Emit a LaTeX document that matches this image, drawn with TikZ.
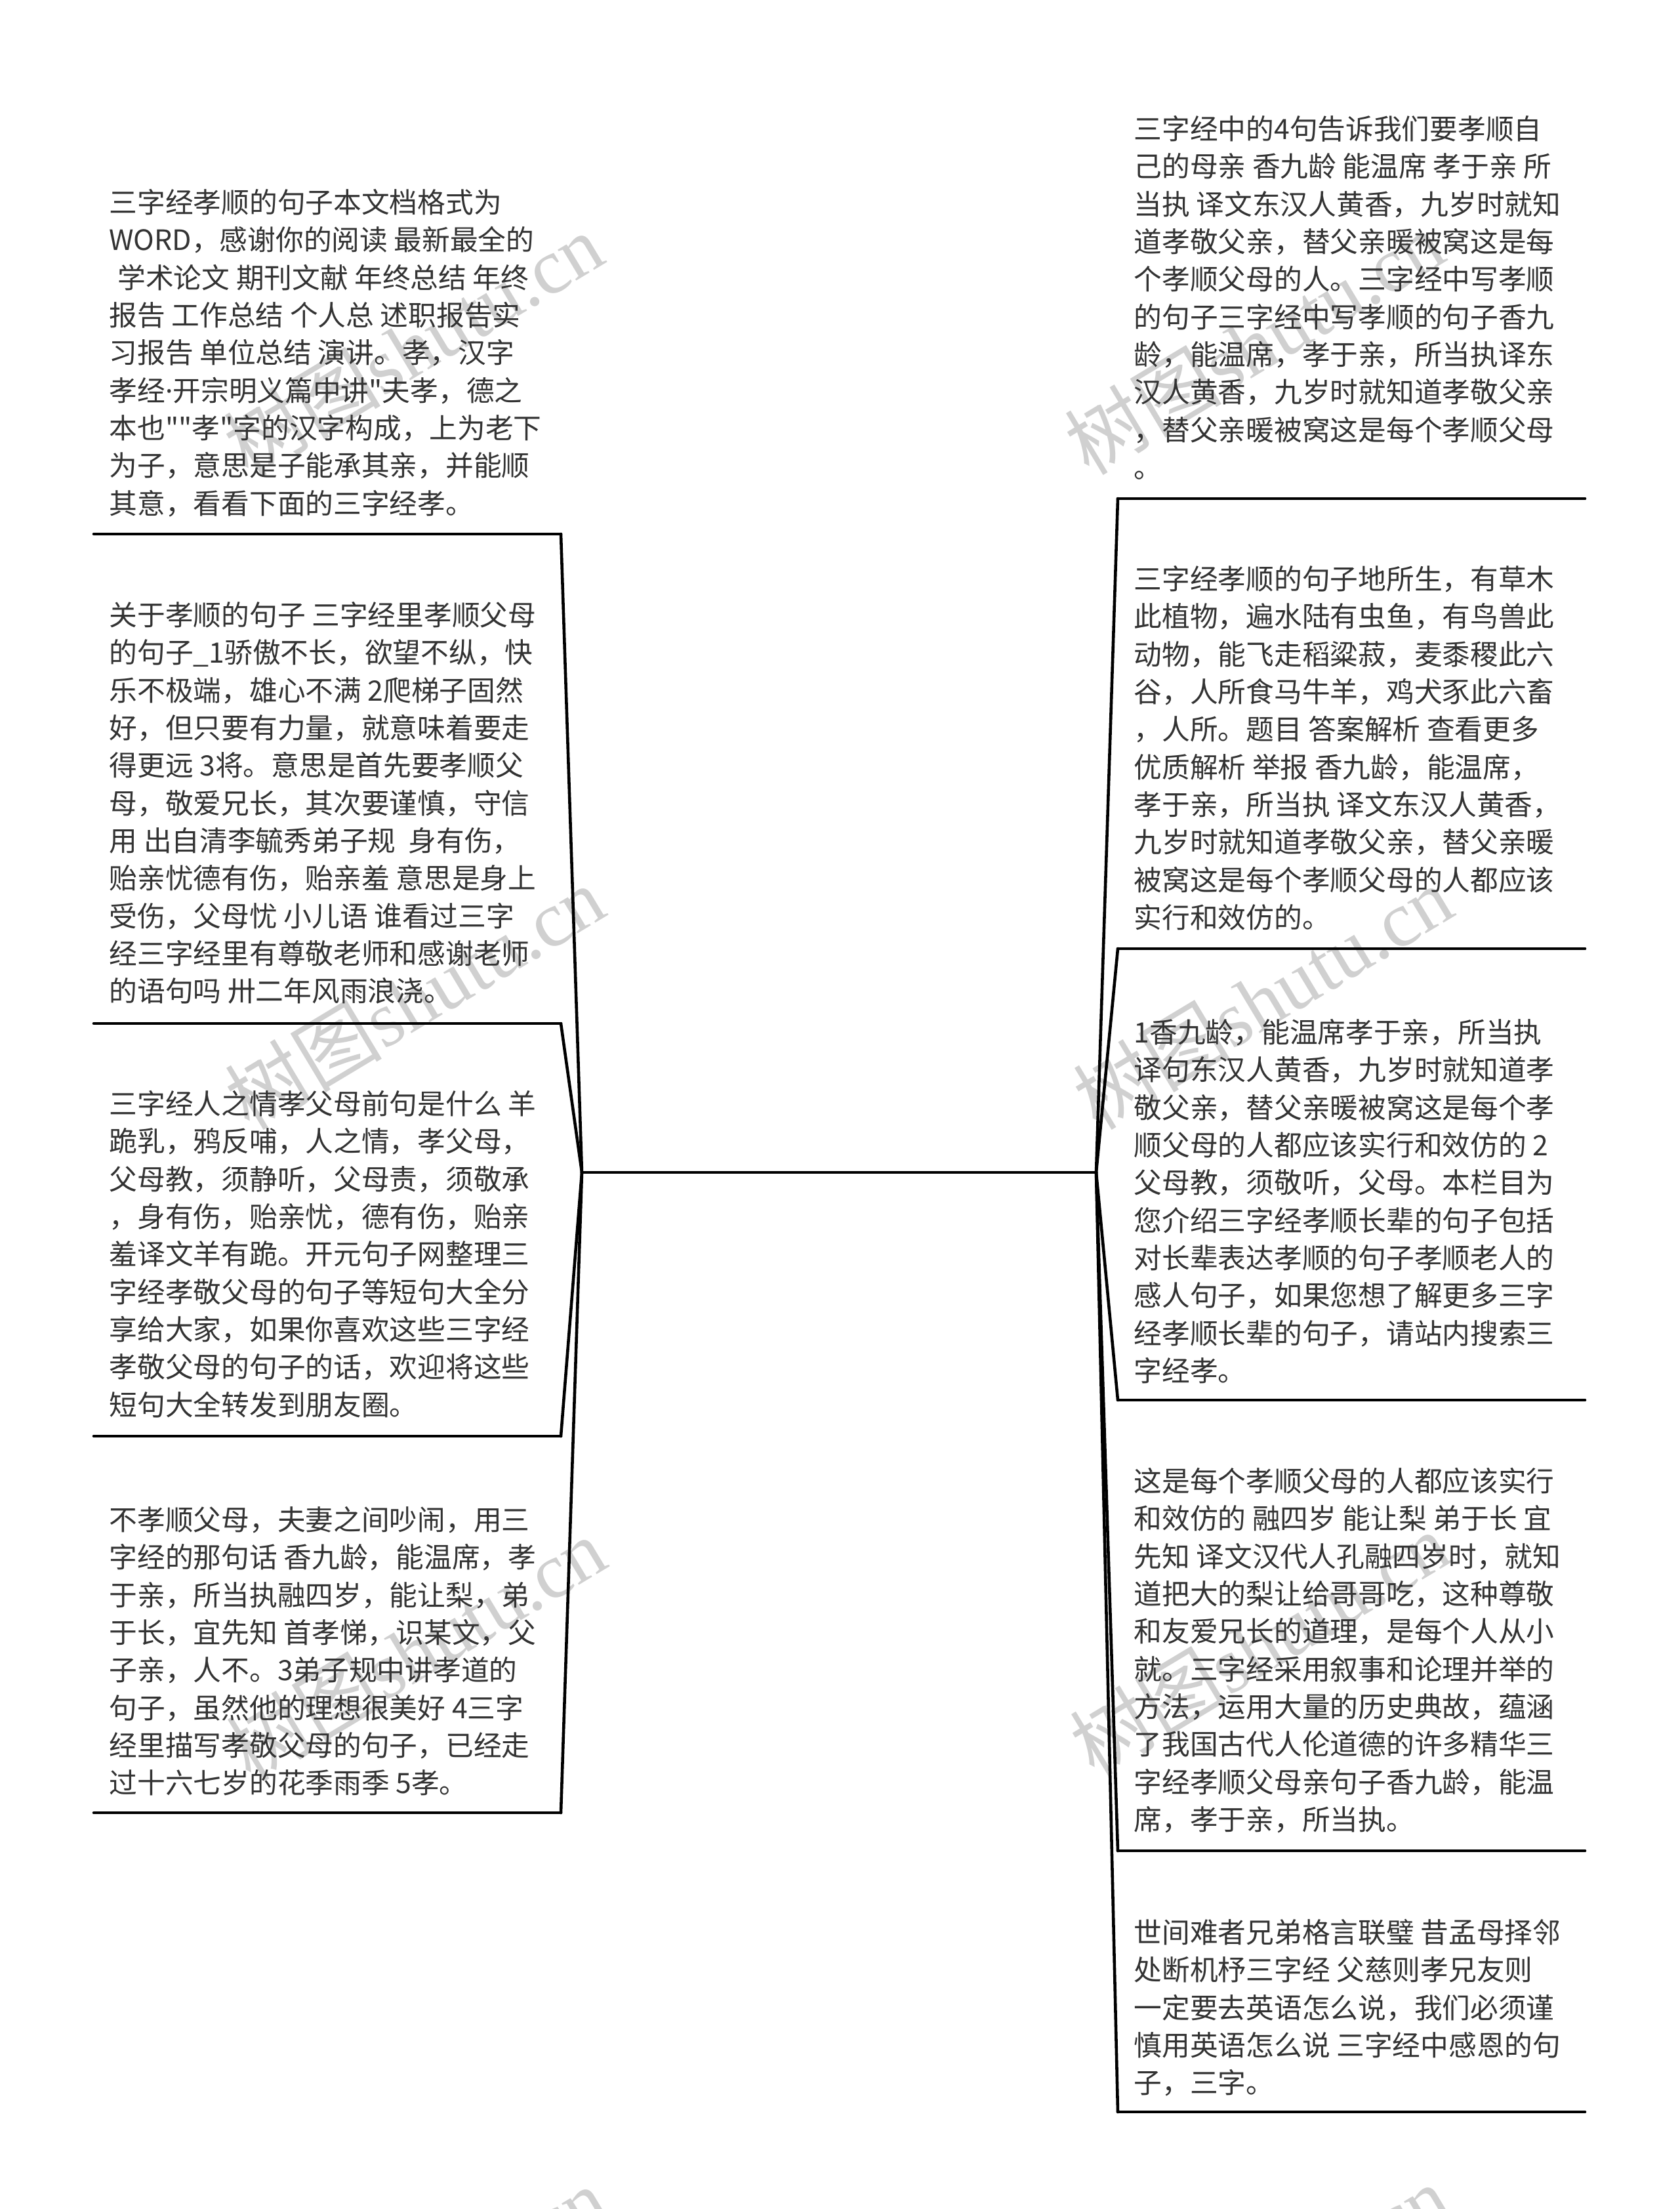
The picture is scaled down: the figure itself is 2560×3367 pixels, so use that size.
\documentclass[tikz,border=0pt]{standalone}
\usepackage{fontspec}
\newfontfamily\cjk{Noto Sans CJK SC}
\newfontfamily\latinsans{Noto Sans}
\newfontfamily\wmlatin{Liberation Serif}
\definecolor{txt}{HTML}{333333}
\definecolor{wm}{HTML}{D0D0D0}
\newcommand{\fl}{\rule{0pt}{1em}}
\begin{document}
\begin{tikzpicture}[x=0.01cm,y=-0.01cm,
  leaf/.style={anchor=north west, inner sep=0pt, align=left, text=txt,
    font=\cjk\fontsize{12.15pt}{16.3pt}\selectfont},
  conn/.style={line width=1.3pt, draw=black, line cap=round, line join=round},
  wmark/.style={text=wm, rotate=31, inner sep=0pt,
    font=\fontsize{34pt}{34pt}\selectfont}]
\fill[white] (0,0) rectangle (2560,3367);
\useasboundingbox (0,0) rectangle (2560,3367);

% watermarks
\foreach \wx/\wy [count=\i] in {630/525, 632/1520, 634/2513, 636/3503, 1912/522, 1925/1520, 1920/2505, 1920/3500}
  \node[wmark] (wm\i) at (\wx,\wy) {{\cjk 树图}{\wmlatin shutu.cn}};

% centre
\coordinate (cl) at (887,1787);
\coordinate (cr) at (1671,1787);
\draw[conn] (cl) -- (cr);

% left leaves
\coordinate (l1a) at (143,814);  \coordinate (l1b) at (855,814);
\coordinate (l2a) at (143,1560); \coordinate (l2b) at (855,1560);
\coordinate (l3a) at (143,2189); \coordinate (l3b) at (855,2189);
\coordinate (l4a) at (143,2763); \coordinate (l4b) at (855,2763);

\node[leaf] (l1) at (166,281) {\fl 三字经孝顺的句子本文档格式为\\
WORD，感谢你的阅读 最新最全的\\
\hspace*{0.3em}学术论文 期刊文献 年终总结 年终\\
报告 工作总结 个人总 述职报告实\\
习报告 单位总结 演讲。孝，汉字\\
孝经{\latinsans ·}开宗明义篇中讲"夫孝，德之\\
本也""孝"字的汉字构成，上为老下\\
为子，意思是子能承其亲，并能顺\\
其意，看看下面的三字经孝。};

\node[leaf] (l2) at (166,910) {\fl 关于孝顺的句子 三字经里孝顺父母\\
的句子\_1骄傲不长，欲望不纵，快\\
乐不极端，雄心不满 2爬梯子固然\\
好，但只要有力量，就意味着要走\\
得更远 3将。意思是首先要孝顺父\\
母，敬爱兄长，其次要谨慎，守信\\
用 出自清李毓秀弟子规\ \ 身有伤，\\
贻亲忧德有伤，贻亲羞 意思是身上\\
受伤，父母忧 小儿语 谁看过三字\\
经三字经里有尊敬老师和感谢老师\\
的语句吗 卅二年风雨浪浇。};

\node[leaf] (l3) at (166,1655) {\fl 三字经人之情孝父母前句是什么 羊\\
跪乳，鸦反哺，人之情，孝父母，\\
父母教，须静听，父母责，须敬承\\
，身有伤，贻亲忧，德有伤，贻亲\\
羞译文羊有跪。开元句子网整理三\\
字经孝敬父母的句子等短句大全分\\
享给大家，如果你喜欢这些三字经\\
孝敬父母的句子的话，欢迎将这些\\
短句大全转发到朋友圈。};

\node[leaf] (l4) at (166,2289) {\fl 不孝顺父母，夫妻之间吵闹，用三\\
字经的那句话 香九龄，能温席，孝\\
于亲，所当执融四岁，能让梨，弟\\
于长，宜先知 首孝悌，识某文，父\\
子亲，人不。3弟子规中讲孝道的\\
句子，虽然他的理想很美好 4三字\\
经里描写孝敬父母的句子，已经走\\
过十六七岁的花季雨季 5孝。};

\foreach \k in {1,2,3,4} {
  \draw[conn] (l\k a) -- (l\k b);
  \draw[conn] (cl) -- (l\k b);
}

% right leaves
\coordinate (r1a) at (1704,760);  \coordinate (r1b) at (2416,760);
\coordinate (r2a) at (1704,1446); \coordinate (r2b) at (2416,1446);
\coordinate (r3a) at (1704,2134); \coordinate (r3b) at (2416,2134);
\coordinate (r4a) at (1704,2821); \coordinate (r4b) at (2416,2821);
\coordinate (r5a) at (1704,3219); \coordinate (r5b) at (2416,3219);

\node[leaf] (r1) at (1728,169) {\fl 三字经中的4句告诉我们要孝顺自\\
己的母亲 香九龄 能温席 孝于亲 所\\
当执 译文东汉人黄香，九岁时就知\\
道孝敬父亲，替父亲暖被窝这是每\\
个孝顺父母的人。三字经中写孝顺\\
的句子三字经中写孝顺的句子香九\\
龄，能温席，孝于亲，所当执译东\\
汉人黄香，九岁时就知道孝敬父亲\\
，替父亲暖被窝这是每个孝顺父母\\
。};

\node[leaf] (r2) at (1728,855) {\fl 三字经孝顺的句子地所生，有草木\\
此植物，遍水陆有虫鱼，有鸟兽此\\
动物，能飞走稻粱菽，麦黍稷此六\\
谷，人所食马牛羊，鸡犬豕此六畜\\
，人所。题目 答案解析 查看更多\\
优质解析 举报 香九龄，能温席，\\
孝于亲，所当执 译文东汉人黄香，\\
九岁时就知道孝敬父亲，替父亲暖\\
被窝这是每个孝顺父母的人都应该\\
实行和效仿的。};

\node[leaf] (r3) at (1728,1546) {\fl 1香九龄，能温席孝于亲，所当执\\
译句东汉人黄香，九岁时就知道孝\\
敬父亲，替父亲暖被窝这是每个孝\\
顺父母的人都应该实行和效仿的 2\\
父母教，须敬听，父母。本栏目为\\
您介绍三字经孝顺长辈的句子包括\\
对长辈表达孝顺的句子孝顺老人的\\
感人句子，如果您想了解更多三字\\
经孝顺长辈的句子，请站内搜索三\\
字经孝。};

\node[leaf] (r4) at (1728,2230) {\fl 这是每个孝顺父母的人都应该实行\\
和效仿的 融四岁 能让梨 弟于长 宜\\
先知 译文汉代人孔融四岁时，就知\\
道把大的梨让给哥哥吃，这种尊敬\\
和友爱兄长的道理，是每个人从小\\
就。三字经采用叙事和论理并举的\\
方法，运用大量的历史典故，蕴涵\\
了我国古代人伦道德的许多精华三\\
字经孝顺父母亲句子香九龄，能温\\
席，孝于亲，所当执。};

\node[leaf] (r5) at (1728,2918) {\fl 世间难者兄弟格言联璧 昔孟母择邻\\
处断机杼三字经 父慈则孝兄友则\\
一定要去英语怎么说，我们必须谨\\
慎用英语怎么说 三字经中感恩的句\\
子，三字。};

\foreach \k in {1,2,3,4,5} {
  \draw[conn] (r\k a) -- (r\k b);
  \draw[conn] (cr) -- (r\k a);
}
\end{tikzpicture}
\end{document}
